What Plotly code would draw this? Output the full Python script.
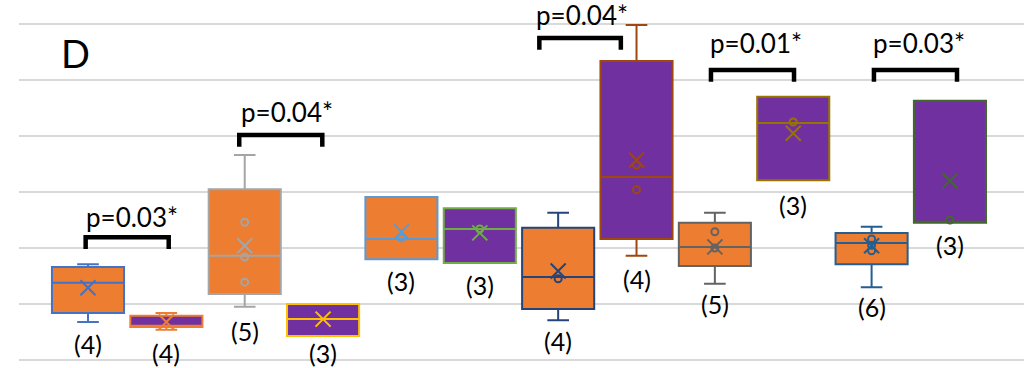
import plotly.graph_objects as go

# Group sizes under each box
n_labels = ["(4)", "(4)", "(5)", "(3)", "(3)", "(3)", "(4)", "(4)", "(5)", "(3)", "(6)", "(3)"]

# Five-number summaries per box (left to right)
upper = [1.71, 0.84, 3.66, 1.00, 2.91, 2.71, 2.63, 5.98, 2.63, 4.70, 2.38, 4.63]
q3 = [1.66, 0.79, 3.05, 1.00, 2.91, 2.71, 2.36, 5.34, 2.45, 4.70, 2.27, 4.63]
median = [1.38, 0.61, 1.86, 0.73, 2.16, 2.34, 1.48, 3.27, 2.02, 4.23, 2.09, 2.45]
q1 = [0.84, 0.59, 1.18, 0.43, 1.80, 1.73, 0.91, 2.16, 1.68, 3.21, 1.71, 2.45]
lower = [0.68, 0.54, 0.95, 0.43, 1.80, 1.73, 0.71, 1.86, 1.36, 3.21, 1.30, 2.45]
mean = [1.29, 0.68, 2.04, 0.73, 2.29, 2.27, 1.59, 3.57, 2.02, 4.05, 2.04, 3.20]

# Inner data points drawn as open circles
inner_points = [
    [], [], [2.46, 1.84, 1.39], [], [2.18], [2.34],
    [1.45], [3.48, 3.04], [2.29, 2.00], [4.25], [2.16, 2.05, 1.95], [2.50],
]

# Height of each group-size label
n_label_y = [0.29, 0.13, 0.52, 0.13, 1.41, 1.34, 0.34, 1.45, 1.00, 2.77, 0.95, 2.05]

# Significance brackets: left x, right x, top y, label, label x, label y
p_labels = ["p=0.03*", "p=0.04*", "p=0.04*", "p=0.01*", "p=0.03*"]
bracket_left = [-0.03, 1.93, 5.76, 7.95, 10.03]
bracket_right = [1.03, 2.99, 6.80, 9.01, 11.09]
bracket_top = [2.19, 4.02, 5.75, 5.18, 5.18]
label_x = [0.56, 2.54, 6.30, 8.52, 10.60]
label_y = [2.55, 4.43, 6.16, 5.66, 5.66]

ORANGE = "#ED7D31"
PURPLE = "#7030A0"
edge_colors = ["#4472C4", "#ED7D31", "#A5A5A5", "#FFC000", "#5B9BD5", "#70AD47",
               "#264478", "#9E480E", "#636363", "#997300", "#255E91", "#43682B"]
FONT = "Lato"

fig = go.Figure()

for i in range(len(n_labels)):
    fill = ORANGE if i % 2 == 0 else PURPLE
    col = edge_colors[i]
    fig.add_trace(go.Box(
        x=[i], q1=[q1[i]], median=[median[i]], q3=[q3[i]],
        lowerfence=[lower[i]], upperfence=[upper[i]],
        fillcolor=fill, line=dict(color=col, width=2),
        width=0.92, whiskerwidth=0.3, boxpoints=False,
        hoverinfo="skip", showlegend=False,
    ))
    if inner_points[i]:
        fig.add_trace(go.Scatter(
            x=[i] * len(inner_points[i]), y=inner_points[i], mode="markers",
            marker=dict(symbol="circle-open", size=7, color=col, line=dict(color=col, width=2)),
            hoverinfo="skip", showlegend=False,
        ))
    fig.add_trace(go.Scatter(
        x=[i], y=[mean[i]], mode="markers",
        marker=dict(symbol="x-thin-open", size=15, color=col, line=dict(color=col, width=2)),
        hoverinfo="skip", showlegend=False,
    ))
    fig.add_annotation(x=i, y=n_label_y[i], text=n_labels[i], showarrow=False,
                       font=dict(family=FONT, size=25, color="#000000"))

LEG = 0.21
for j in range(len(p_labels)):
    xl, xr, yt = bracket_left[j], bracket_right[j], bracket_top[j]
    fig.add_trace(go.Scatter(
        x=[xl, xl, xr, xr], y=[yt - LEG, yt, yt, yt - LEG], mode="lines",
        line=dict(color="#000000", width=4.5), hoverinfo="skip", showlegend=False,
    ))
    fig.add_annotation(x=label_x[j], y=label_y[j], text=p_labels[j], showarrow=False,
                       font=dict(family=FONT, size=26, color="#000000"))

fig.add_annotation(xref="paper", yref="paper", x=0.040, y=0.855, text="D",
                   showarrow=False, xanchor="left", yanchor="middle",
                   font=dict(family=FONT, size=38, color="#000000"))

fig.update_layout(
    width=1024, height=368,
    margin=dict(l=19, r=0, t=0, b=0),
    paper_bgcolor="#FFFFFF", plot_bgcolor="#FFFFFF",
    xaxis=dict(range=[-0.8806, 11.945], showgrid=False, zeroline=False,
               showticklabels=False, ticks=""),
    yaxis=dict(range=[-0.1429, 6.4286], tick0=0, dtick=1, showgrid=True,
               gridcolor="#D9D9D9", gridwidth=2, zeroline=False,
               showticklabels=False, ticks=""),
    boxgap=0, boxgroupgap=0,
)

fig.write_html("out.html")
